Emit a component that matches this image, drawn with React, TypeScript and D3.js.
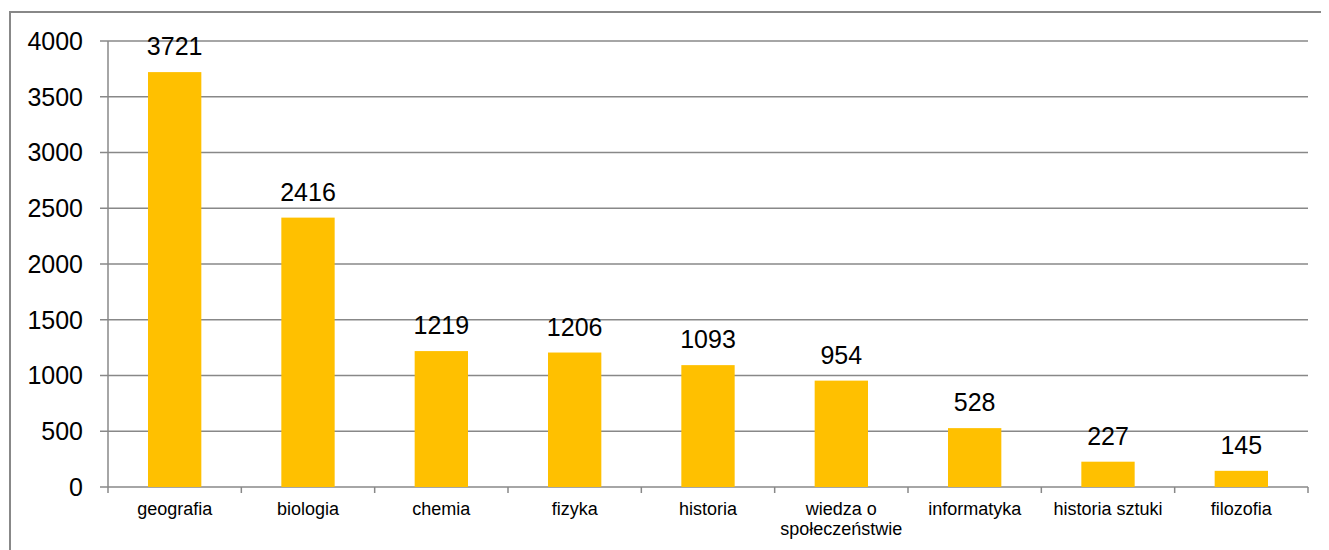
import React from "react";
import * as d3 from "d3";

const categories: string[][] = [
  ["geografia"],
  ["biologia"],
  ["chemia"],
  ["fizyka"],
  ["historia"],
  ["wiedza o", "społeczeństwie"],
  ["informatyka"],
  ["historia sztuki"],
  ["filozofia"],
];
const values: number[] = [3721, 2416, 1219, 1206, 1093, 954, 528, 227, 145];
const yTicks: number[] = [0, 500, 1000, 1500, 2000, 2500, 3000, 3500, 4000];

const W = 1321;
const H = 542;
const left = 100;
const right = 1300;
const top = 33;
const bottom = 479;
const GRID = "#888888";
const FONT = "'Liberation Sans', Arial, sans-serif";

export default function App() {
  const keys = categories.map((_, i) => String(i));
  const x = d3.scaleBand<string>().domain(keys).range([left, right]).paddingInner(0.6).paddingOuter(0.3);
  const xb = d3.scaleBand<string>().domain(keys).range([left, right]);
  const y = d3.scaleLinear().domain([0, 4000]).range([bottom, top]);

  return (
    <svg width={W} height={H} style={{ display: "block" }}>
      <rect x={0} y={0} width={W} height={H} fill="#fff" />
      <rect x={2} y={4} width={W + 20} height={H + 20} fill="none" stroke={GRID} strokeWidth={2} />
      {yTicks.map((t) => (
        <g key={t}>
          <line x1={left - 8} x2={right} y1={y(t)} y2={y(t)} stroke={GRID} strokeWidth={1.5} />
          <text x={left - 25} y={y(t)} dy="0.35em" textAnchor="end" fontFamily={FONT} fontSize={25} fill="#000">
            {t}
          </text>
        </g>
      ))}
      <line x1={left} x2={left} y1={top} y2={bottom} stroke={GRID} strokeWidth={1.5} />
      {d3.range(categories.length + 1).map((i) => {
        const xx = left + i * xb.bandwidth();
        return <line key={i} x1={xx} x2={xx} y1={bottom} y2={bottom + 6} stroke={GRID} strokeWidth={1.5} />;
      })}
      {values.map((v, i) => (
        <g key={i}>
          <rect x={x(String(i))} y={y(v)} width={x.bandwidth()} height={bottom - y(v)} fill="#FFC000" />
          <text x={(x(String(i)) as number) + x.bandwidth() / 2} y={y(v) - 17} textAnchor="middle" fontFamily={FONT} fontSize={25} fill="#000">
            {v}
          </text>
        </g>
      ))}
      {categories.map((lines, i) => (
        <text key={i} x={(xb(String(i)) as number) + xb.bandwidth() / 2} y={507} textAnchor="middle" fontFamily={FONT} fontSize={18} fill="#000">
          {lines.map((l, j) => (
            <tspan key={j} x={(xb(String(i)) as number) + xb.bandwidth() / 2} dy={j === 0 ? 0 : 20}>
              {l}
            </tspan>
          ))}
        </text>
      ))}
    </svg>
  );
}
